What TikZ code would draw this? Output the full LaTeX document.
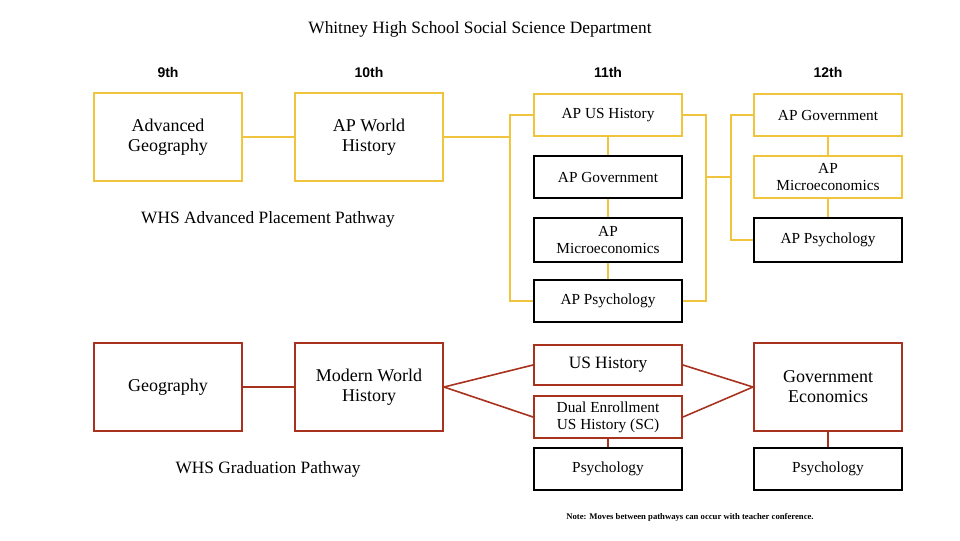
\documentclass[tikz,border=0pt]{standalone}
\usepackage{fontspec}
\setmainfont{Liberation Serif}
\setsansfont{Liberation Sans}
\definecolor{gold}{HTML}{F0C43C}
\definecolor{brick}{HTML}{A8321E}
\begin{document}
\begin{tikzpicture}[x=0.75pt,y=-0.75pt,
 box/.style={draw=#1,line width=1.5pt,minimum width=111pt,align=center,inner sep=1pt},
 big/.style={minimum height=66pt,font=\fontsize{13.5}{15}\selectfont},
 small/.style={minimum height=31.5pt,font=\fontsize{11.5}{12.5}\selectfont},
 gl/.style={draw=gold,line width=1.5pt},
 rl/.style={draw=brick,line width=1.2pt},
 hdr/.style={font=\sffamily\bfseries\fontsize{10.5}{12}\selectfont}]
\useasboundingbox (0,0) rectangle (960,540);
\node[font=\fontsize{13}{15}\selectfont] (title) at (480,29) {Whitney High School Social Science Department};
\node[hdr] (h9) at (168,72) {9th};
\node[hdr] (h10) at (369,72) {10th};
\node[hdr] (h11) at (608,72) {11th};
\node[hdr] (h12) at (828,72) {12th};
\node[box=gold,big] (ag) at (168,137) {Advanced\\Geography};
\node[box=gold,big] (apw) at (369,137) {AP World\\History};
\node[box=gold,small] (aus) at (608,115) {AP US History};
\node[box=black,small] (agov) at (608,177) {AP Government};
\node[box=black,small,minimum height=33pt] (amic) at (608,240) {AP\\Microeconomics};
\node[box=black,small] (apsy) at (608,301) {AP Psychology};
\node[box=gold,small] (bgov) at (828,115) {AP Government};
\node[box=gold,small] (bmic) at (828,177) {AP\\Microeconomics};
\node[box=black,small,minimum height=33pt] (bpsy) at (828,240) {AP Psychology};
\node[font=\fontsize{13}{15}\selectfont] (t1) at (268,219) {WHS Advanced Placement Pathway};
\coordinate (l1) at (510,137);
\coordinate (r1) at (706,177);
\coordinate (r2) at (731,177);
\draw[gl] (ag) -- (apw);
\draw[gl] (apw.east) -- (l1);
\draw[gl] (aus.west) -| (l1) |- (apsy.west);
\draw[gl] (aus.east) -| (r1) |- (apsy.east);
\draw[gl] (r1) -- (r2);
\draw[gl] (bgov.west) -| (r2) |- (bpsy.west);
\draw[gl] (aus) -- (agov); \draw[gl] (agov) -- (amic); \draw[gl] (amic) -- (apsy);
\draw[gl] (bgov) -- (bmic); \draw[gl] (bmic) -- (bpsy);
\node[box=brick,big] (geo) at (168,387) {Geography};
\node[box=brick,big] (mwh) at (369,387) {Modern World\\History};
\node[box=brick,minimum height=30pt,font=\fontsize{13}{15}\selectfont] (ush) at (608,365) {US History};
\node[box=brick,small] (due) at (608,417) {Dual Enrollment\\US History (SC)};
\node[box=black,small] (psy1) at (608,469) {Psychology};
\node[box=brick,big] (ge) at (828,387) {Government\\Economics};
\node[box=black,small] (psy2) at (828,469) {Psychology};
\node[font=\fontsize{13}{15}\selectfont] (t2) at (268,469) {WHS Graduation Pathway};
\draw[rl] (geo) -- (mwh);
\draw[rl] (mwh.east) -- (ush.west);
\draw[rl] (mwh.east) -- (due.west);
\draw[rl] (ush.east) -- (ge.west);
\draw[rl] (due.east) -- (ge.west);
\draw[rl] (due) -- (psy1);
\draw[rl] (ge) -- (psy2);
\node[font=\bfseries\fontsize{6.5}{8}\selectfont] (note) at (690,517) {Note: Moves between pathways can occur with teacher conference.};
\end{tikzpicture}
\end{document}
